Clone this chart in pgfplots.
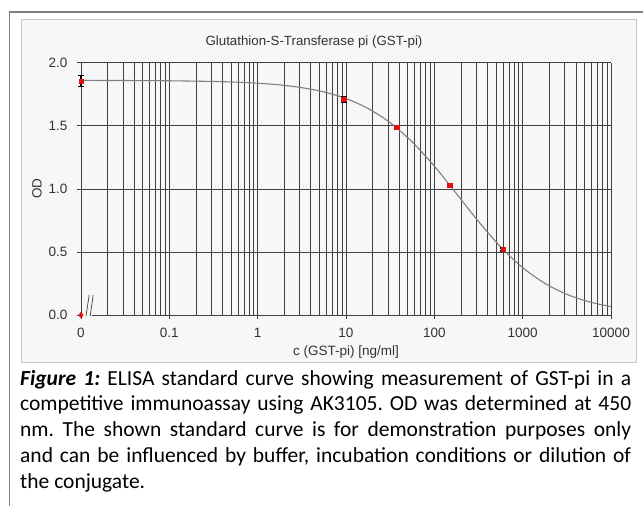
\documentclass[border=0pt]{standalone}
\usepackage{fontspec}
\setmainfont{Liberation Sans}
\newfontfamily\capfont{Carlito}
\usepackage{pgfplots}
\pgfplotsset{compat=1.18}
\definecolor{gridcol}{HTML}{404040}
\definecolor{curvecol}{HTML}{808080}
\definecolor{labcol}{HTML}{333333}
\definecolor{outercol}{HTML}{808080}
\definecolor{boxcol}{HTML}{C8C8C8}
\definecolor{boxfill}{HTML}{F7F7F7}
\definecolor{ptred}{HTML}{E01010}
\begin{document}
\frenchspacing
\begin{tikzpicture}[x=1pt,y=1pt]
\useasboundingbox (0,0) rectangle (643,-506);
\clip (0,0) rectangle (643,-506);
\fill[white] (0,0) rectangle (643,-506);
\draw[outercol, line width=1.1pt] (9.5,-520) -- (9.5,-12) -- (660,-12);
\draw[boxcol, line width=0.8pt, fill=boxfill] (21.5,-19.5) rectangle (636.5,-362);
\node[font=\fontsize{13.3}{16}\selectfont, text=labcol] at (314,-42) {Glutathion-S-Transferase pi (GST-pi)};
\begin{axis}[
  at={(81pt,-315pt)}, anchor=south west,
  scale only axis, width=530pt, height=252.3pt,
  xmode=log, xmin=0.01, xmax=10000, ymin=0, ymax=2,
  axis line style={draw=none},
  xtick={0.01,0.1,1,10,100,1000,10000},
  xticklabels={0,0.1,1,10,100,1000,10000},
  minor xtick={0.02,0.03,0.04,0.05,0.06,0.07,0.08,0.09,
    0.2,0.3,0.4,0.5,0.6,0.7,0.8,0.9,
    2,3,4,5,6,7,8,9,
    20,30,40,50,60,70,80,90,
    200,300,400,500,600,700,800,900,
    2000,3000,4000,5000,6000,7000,8000,9000},
  ytick={0.5,1,1.5,2}, yticklabels={0.5,1.0,1.5,2.0},
  extra y ticks={0}, extra y tick labels={0.0},
  extra y tick style={grid=none},
  grid=both,
  major grid style={gridcol, line width=0.7pt},
  minor grid style={gridcol, line width=0.7pt},
  tick pos=left, tick align=outside,
  major tick length=4pt, minor tick length=0pt,
  every tick/.style={gridcol, line width=0.7pt},
  tick label style={font=\fontsize{13.5}{16}\selectfont, text=labcol},
  xticklabel style={yshift=-6pt},
  yticklabel style={xshift=-6pt},
  xlabel={c (GST-pi) [ng/ml]},
  ylabel={OD},
  label style={font=\fontsize{13.5}{16}\selectfont, text=labcol},
  xlabel style={at={(axis description cs:0.5,-0.1467)}, anchor=center},
  ylabel style={at={(axis description cs:-0.083,0.5)}, anchor=center},
  clip=false,
]
\draw[gridcol, line width=0.7pt] (axis cs:0.01333,0) -- (axis cs:10000,0);
\draw[gridcol, line width=0.7pt] (axis cs:0.01139,-0.008) -- (axis cs:0.01238,0.159);
\draw[gridcol, line width=0.7pt] (axis cs:0.01271,-0.008) -- (axis cs:0.01374,0.159);
\addplot[curvecol, line width=1.1pt, smooth, no marks] coordinates {
(0.01,1.8595)(0.0316,1.8587)(0.1,1.8567)(0.316,1.8513)(0.562,1.8460)(1,1.8375)
(1.778,1.8238)(3.162,1.8021)(5.623,1.7681)(10,1.7157)(17.78,1.6373)(31.62,1.5243)
(56.23,1.3715)(100,1.1800)(177.8,0.9624)(316.2,0.7413)(562.3,0.5404)(1000,0.3757)
(1778,0.2516)(3162,0.1640)(5623,0.1049)(10000,0.0662)};
\addplot[only marks, mark=square*, mark size=2.2pt, mark options={ptred, fill=ptred},
  error bars/.cd, y dir=both, y explicit,
  error bar style={black, line width=1.2pt},
  error mark options={rotate=90, black, mark size=3pt, line width=1.6pt}]
  coordinates {
  (0.01,1.855) +- (0,0.045)
  (9.375,1.71) +- (0,0.02)
  (37.5,1.487) +- (0,0.012)
  (150,1.028) +- (0,0.008)
  (600,0.52) +- (0,0.012)};
\addplot[only marks, mark=diamond*, mark size=3pt, mark options={ptred, fill=ptred}]
  coordinates {(0.01,0)};
\end{axis}
\node[anchor=north west, inner sep=0pt, text width=611pt, align=justify,
  font=\capfont\fontsize{21.5}{25.7}\selectfont] at (20,-370)
  {\textbf{\textit{Figure 1:}} ELISA standard curve showing measurement of GST-pi in a\linebreak
   competitive immunoassay using AK3105. OD was determined at 450\linebreak
   nm. The shown standard curve is for demonstration purposes only\linebreak
   and can be influenced by buffer, incubation conditions or dilution of\linebreak
   the conjugate.};
\end{tikzpicture}
\end{document}
